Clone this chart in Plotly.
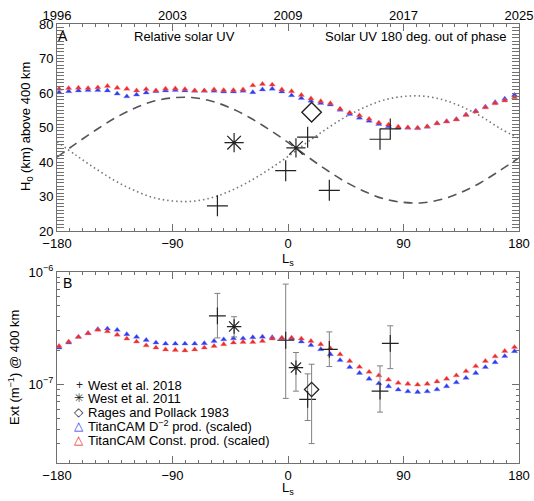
import plotly.graph_objects as go

# ---------------- data ----------------
ls_model = [-178.4, -170.9, -163.3, -155.8, -148.2, -140.7, -133.1, -125.6, -118.0, -110.5,
            -102.9, -95.4, -87.8, -80.3, -72.7, -65.2, -57.6, -50.1, -42.5, -35.0,
            -27.4, -19.9, -12.3, -4.8, 2.8, 10.4, 17.9, 25.5, 33.0, 40.6,
            48.1, 55.7, 63.2, 70.8, 78.3, 85.9, 93.4, 101.0, 108.5, 116.1,
            123.6, 131.2, 138.7, 146.3, 153.8, 161.4, 168.9, 176.5]

h_const = [61.2, 61.4, 61.5, 61.4, 61.6, 62.0, 61.5, 61.2, 60.7, 61.1,
           60.7, 61.2, 61.3, 61.1, 60.7, 60.7, 61.0, 60.8, 60.8, 61.0,
           62.2, 62.6, 62.4, 61.0, 60.5, 59.4, 58.4, 57.6, 57.0, 55.4,
           54.3, 53.5, 52.5, 51.4, 50.8, 50.2, 50.0, 49.9, 50.3, 51.2,
           51.7, 52.3, 53.6, 54.6, 55.8, 57.0, 57.8, 58.7]
h_d2 = [60.2, 60.5, 60.7, 60.8, 60.8, 60.7, 59.8, 59.0, 59.5, 60.1,
        60.5, 60.7, 60.8, 60.7, 60.6, 60.6, 60.6, 60.4, 60.4, 60.6,
        60.2, 61.0, 61.2, 60.4, 59.3, 58.5, 57.7, 57.1, 56.6, 55.1,
        53.9, 52.8, 51.9, 51.0, 50.3, 50.0, 49.9, 49.8, 50.2, 51.2,
        51.8, 52.4, 53.7, 54.8, 56.0, 57.3, 58.3, 59.4]

ext_const = [2.19e-7, 2.40e-7, 2.64e-7, 2.85e-7, 3.05e-7, 2.96e-7, 2.76e-7, 2.55e-7, 2.40e-7, 2.22e-7,
             2.12e-7, 2.04e-7, 2.02e-7, 2.00e-7, 2.04e-7, 2.12e-7, 2.19e-7, 2.27e-7, 2.35e-7, 2.38e-7,
             2.38e-7, 2.43e-7, 2.55e-7, 2.60e-7, 2.60e-7, 2.55e-7, 2.43e-7, 2.27e-7, 2.09e-7, 1.85e-7,
             1.61e-7, 1.43e-7, 1.29e-7, 1.20e-7, 1.10e-7, 1.03e-7, 1.01e-7, 0.993e-7, 1.01e-7, 1.06e-7,
             1.12e-7, 1.20e-7, 1.31e-7, 1.45e-7, 1.61e-7, 1.77e-7, 1.98e-7, 2.14e-7]
ext_d2 = [2.12e-7, 2.35e-7, 2.64e-7, 2.85e-7, 3.10e-7, 3.13e-7, 3.05e-7, 2.79e-7, 2.64e-7, 2.48e-7,
          2.35e-7, 2.30e-7, 2.30e-7, 2.30e-7, 2.30e-7, 2.32e-7, 2.43e-7, 2.51e-7, 2.56e-7, 2.56e-7,
          2.62e-7, 2.65e-7, 2.62e-7, 2.56e-7, 2.55e-7, 2.40e-7, 2.23e-7, 2.05e-7, 1.85e-7, 1.64e-7,
          1.42e-7, 1.26e-7, 1.12e-7, 1.02e-7, 0.96e-7, 0.897e-7, 0.865e-7, 0.855e-7, 0.865e-7, 0.90e-7,
          0.96e-7, 1.04e-7, 1.14e-7, 1.26e-7, 1.42e-7, 1.57e-7, 1.78e-7, 1.97e-7]

ls_uv = [-180, -165, -150, -135, -120, -105, -90, -75, -60, -45, -30, -15, 0,
         15, 30, 45, 60, 75, 90, 105, 120, 135, 150, 165, 180]
uv_relative = [41.4, 45.4, 49.2, 52.7, 55.5, 57.6, 58.6, 58.7, 57.7, 55.7, 52.9, 49.5, 45.7,
               41.6, 37.7, 34.2, 31.4, 29.3, 28.3, 28.2, 29.2, 31.2, 34.0, 37.5, 41.2]
uv_out_of_phase = [45.9, 41.9, 38.1, 34.6, 31.8, 29.7, 28.7, 28.6, 29.6, 31.6, 34.4, 37.8, 41.6,
                   45.7, 49.6, 53.1, 55.9, 58.0, 59.0, 59.1, 58.1, 56.1, 53.3, 49.8, 46.8]

w18_ls = [-55, -1.8, 15.3, 32.2, 71.7, 79.7]
w18_h = [27.3, 37.5, 47.2, 31.8, 46.6, 49.6]
w18_ext = [4.07e-7, 2.47e-7, 7.34e-8, 2.05e-7, 8.7e-8, 2.32e-7]
w18_hi = [6.45e-7, 7.8e-7, 1.24e-7, 2.93e-7, 1.46e-7, 3.32e-7]
w18_lo = [2.59e-7, 7.5e-8, 4.77e-8, 1.44e-7, 5.66e-8, 1.38e-7]

w11_ls = [-42, 6.2]
w11_h = [45.6, 44.1]
w11_ext = [3.27e-7, 1.41e-7]
w11_hi = [4.0e-7, 1.92e-7]
w11_lo = [2.64e-7, 8.7e-8]

rp_ls = [18.4]
rp_h = [54.4]
rp_ext = [9.0e-8]
rp_hi = [1.51e-7]
rp_lo = [2.97e-8]

x_ticks = [-180, -90, 0, 90, 180]
x_ticktext = ["\u2212180", "\u221290", "0", "90", "180"]
year_ticktext = ["1996", "2003", "2009", "2017", "2025"]

# ---------------- style ----------------
FONT = "Liberation Sans"
AX = "#707070"
RED = "rgb(235,45,45)"
BLUE = "rgb(45,60,240)"
BLK = "#222222"
ERR = "#808080"

fig = go.Figure()

# top panel curves
fig.add_trace(go.Scatter(x=ls_uv, y=uv_relative, mode="lines", line=dict(color="#555555", width=1.6, dash="9px,6px", shape="spline"),
                         xaxis="x", yaxis="y", showlegend=False))
fig.add_trace(go.Scatter(x=ls_uv, y=uv_out_of_phase, mode="lines", line=dict(color="#777777", width=1.6, dash="1.5px,3px", shape="spline"),
                         xaxis="x", yaxis="y", showlegend=False))

# model triangles
for xa, ya, d2, cst in [("x", "y", h_d2, h_const), ("x2", "y2", ext_d2, ext_const)]:
    fig.add_trace(go.Scatter(x=ls_model, y=d2, mode="markers", xaxis=xa, yaxis=ya, showlegend=False,
                             marker=dict(symbol="triangle-up", size=5.5, color=BLUE, line=dict(width=0.6, color="rgba(120,130,255,0.6)"))))
    fig.add_trace(go.Scatter(x=ls_model, y=cst, mode="markers", xaxis=xa, yaxis=ya, showlegend=False,
                             marker=dict(symbol="triangle-up", size=5.5, color=RED, line=dict(width=0.6, color="rgba(255,120,120,0.6)"))))

# observations, top panel
fig.add_trace(go.Scatter(x=w18_ls, y=w18_h, mode="markers", xaxis="x", yaxis="y", showlegend=False,
                         marker=dict(symbol="cross-thin", size=15, line=dict(width=1.2, color=BLK))))
fig.add_trace(go.Scatter(x=w11_ls, y=w11_h, mode="markers", xaxis="x", yaxis="y", showlegend=False,
                         marker=dict(symbol="asterisk", size=16, line=dict(width=1.2, color=BLK))))
fig.add_trace(go.Scatter(x=rp_ls, y=rp_h, mode="markers", xaxis="x", yaxis="y", showlegend=False,
                         marker=dict(symbol="diamond-open", size=15, color=BLK, line=dict(width=1.4, color=BLK))))


def errs(v, hi, lo):
    return dict(type="data", symmetric=False,
                array=[h - a for h, a in zip(hi, v)],
                arrayminus=[a - l for a, l in zip(v, lo)],
                color=ERR, thickness=1, width=3)


fig.add_trace(go.Scatter(x=w18_ls, y=w18_ext, mode="markers", xaxis="x2", yaxis="y2", showlegend=False,
                         error_y=errs(w18_ext, w18_hi, w18_lo),
                         marker=dict(symbol="cross-thin", size=12, line=dict(width=1.2, color=BLK))))
fig.add_trace(go.Scatter(x=w11_ls, y=w11_ext, mode="markers", xaxis="x2", yaxis="y2", showlegend=False,
                         error_y=errs(w11_ext, w11_hi, w11_lo),
                         marker=dict(symbol="asterisk", size=12, line=dict(width=1.2, color=BLK))))
fig.add_trace(go.Scatter(x=rp_ls, y=rp_ext, mode="markers", xaxis="x2", yaxis="y2", showlegend=False,
                         error_y=errs(rp_ext, rp_hi, rp_lo),
                         marker=dict(symbol="diamond-open", size=11, color=BLK, line=dict(width=1.3, color=BLK))))

# ---------------- layout ----------------
W, H = 534, 501
L, R, T, B = 57, 15, 24, 38
ph = H - T - B


def py(px):
    return (H - B - px) / ph


def px_x(px):
    return (px - L) / (W - L - R)


tickfont = dict(family=FONT, size=13, color="black")
common = dict(showline=True, linecolor=AX, linewidth=1, mirror="allticks", ticks="inside", ticklen=7,
              tickcolor=AX, tickwidth=1, showgrid=False, zeroline=False, tickfont=tickfont, automargin=False)
xcommon = dict(common, range=[-180, 180], tickmode="array", tickvals=x_ticks, ticktext=x_ticktext,
               minor=dict(ticks="inside", ticklen=3, tickcolor=AX, dtick=10, tick0=-180))

log_minor = [k * 1e-8 for k in range(2, 10)] + [k * 1e-7 for k in range(2, 10)]

fig.update_layout(
    width=W, height=H, margin=dict(l=L, r=R, t=T, b=B, autoexpand=False),
    paper_bgcolor="white", plot_bgcolor="white",
    showlegend=False,
    font=dict(family=FONT, size=13, color="black"),
    xaxis=dict(xcommon, domain=[0, 1], anchor="y"),
    yaxis=dict(common, domain=[py(231), 1], anchor="x", range=[20, 80], tickmode="array",
               tickvals=[20, 30, 40, 50, 60, 70, 80],
               minor=dict(ticks="inside", ticklen=3, tickcolor=AX, dtick=1, tick0=20)),
    xaxis3=dict(range=[-180, 180], overlaying="x", side="top", anchor="y", showline=False, ticks="",
                tickmode="array", tickvals=x_ticks, ticktext=year_ticktext, showgrid=False,
                zeroline=False, tickfont=tickfont, automargin=False),
    xaxis2=dict(xcommon, domain=[0, 1], anchor="y2"),
    yaxis2=dict(common, domain=[0, py(272)], anchor="x2", type="log", range=[-7.7, -6.0],
                tickmode="array", tickvals=[1e-7, 1e-6], ticktext=["10<sup>\u22127</sup>", "10<sup>\u22126</sup>"],
                minor=dict(ticks="inside", ticklen=3, tickcolor=AX, tickmode="array", tickvals=log_minor)),
)

# invisible anchor for top year axis
fig.add_trace(go.Scatter(x=[], y=[], xaxis="x3", yaxis="y", showlegend=False))

ann = []
def A(x, y, text, size=13, xanchor="center", color="black", angle=0):
    ann.append(dict(x=x, y=y, xref="paper", yref="paper", text=text, showarrow=False,
                    xanchor=xanchor, yanchor="middle", textangle=angle,
                    font=dict(family=FONT, size=size, color=color)))

A(px_x(63), py(36), "A", size=14)
A(px_x(67), py(283), "B", size=14)
A(px_x(184), py(37), "Relative solar UV")
A(px_x(508), py(37), "Solar UV 180 deg. out of phase", xanchor="right")
A(px_x(288), py(259), "L<sub>s</sub>")
A(px_x(288), py(488), "L<sub>s</sub>")
A(px_x(26), py(127), "H<sub>0</sub> (km) above 400 km", angle=-90)
A(px_x(14), py(368), "Ext (m<sup>\u22121</sup>) @ 400 km", angle=-90)

legend_rows = [
    ("+", BLK, "West et al. 2018", 385),
    ("\u2733", BLK, "West et al. 2011", 398),
    ("\u25C7", BLK, "Rages and Pollack 1983", 412),
    ("\u25B3", BLUE, "TitanCAM D<sup>\u22122</sup> prod. (scaled)", 426),
    ("\u25B3", RED, "TitanCAM Const. prod. (scaled)", 440),
]
for sym, col, txt, yy in legend_rows:
    A(px_x(79), py(yy), sym, size=12, color=col)
    A(px_x(86), py(yy), txt, xanchor="left")

fig.update_layout(annotations=ann)

fig.write_html("out.html", config={"responsive": False, "displayModeBar": False},
               post_script="document.body.style.margin='0';document.body.style.padding='0';")
